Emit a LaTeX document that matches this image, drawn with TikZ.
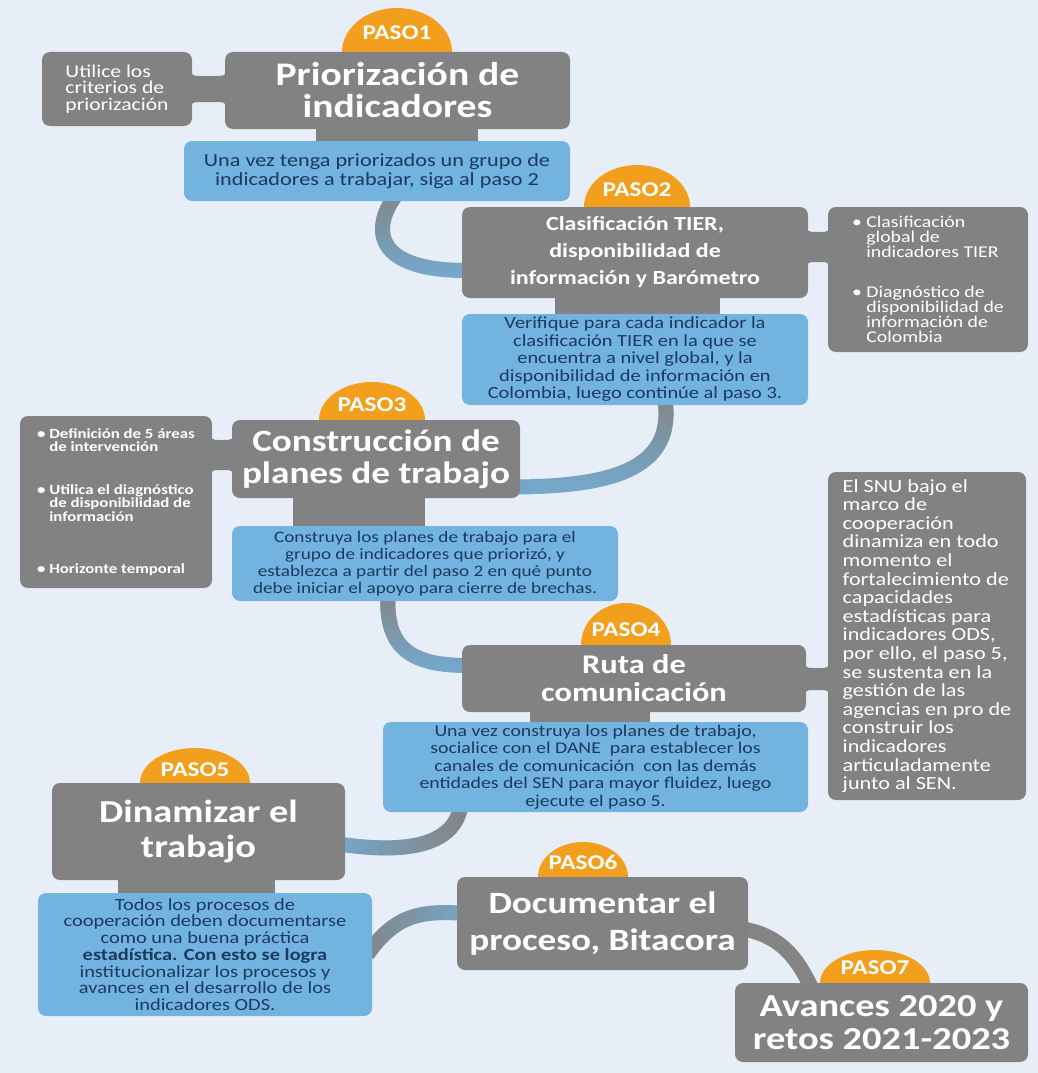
\documentclass[tikz,border=0pt]{standalone}
\usepackage{fontspec}
\setmainfont{Carlito}[FakeStretch=1.2]
\usetikzlibrary{fadings}

\definecolor{bgcol}{HTML}{E8EEF8}
\definecolor{boxgrey}{HTML}{828282}
\definecolor{boxblue}{HTML}{72B3E0}
\definecolor{navy}{HTML}{1B3A5E}
\definecolor{pasoorange}{HTML}{F29F1E}
\definecolor{linkblue}{HTML}{74ABD0}
\definecolor{linkgrey}{HTML}{848484}

\pgfdeclarelayer{back}
\pgfdeclarelayer{bg}
\pgfsetlayers{back,bg,main}

\tikzset{
  greybox/.style={fill=boxgrey, rounded corners=8pt, text=white, inner sep=0pt, align=center},
  bluebox/.style={fill=boxblue, rounded corners=8pt, text=navy, inner sep=0pt, align=center},
  sidebox/.style={fill=boxgrey, rounded corners=8pt, text=white, inner sep=0pt, align=left},
  pasotxt/.style={text=white, font=\bfseries\fontsize{21}{21}\selectfont, inner sep=0pt},
  link/.style={line width=15pt, draw=linkblue},
  linkfade/.style={postaction={draw=linkgrey, line width=15pt, path fading=#1}},
}

% neck between a box and its side box
\newcommand{\neckh}[5]{%
  \fill[boxgrey] (#1,#3-#5) .. controls (#1,#3) .. (#1+#5,#3) -- (#2-#5,#3)
    .. controls (#2,#3) .. (#2,#3-#5) -- (#2,#4+#5) .. controls (#2,#4) .. (#2-#5,#4)
    -- (#1+#5,#4) .. controls (#1,#4) .. (#1,#4+#5) -- cycle;}

\begin{document}
\begin{tikzpicture}[x=1pt, y=-1pt]

    \useasboundingbox (0,0) rectangle (1038,1073);
    \begin{pgfonlayer}{back}
      \fill[bgcol] (0,0) rectangle (1038,1073);
    \end{pgfonlayer}

    %% Paso 1
    \node[sidebox, minimum width=150pt, minimum height=74pt,
      font=\fontsize{18}{16.5}\selectfont] (side1) at (117,89)
      {Utilice los\\criterios de\\priorización};
    \node[greybox, minimum width=345pt, minimum height=77pt,
      font=\bfseries\fontsize{33}{32}\selectfont] (prio) at (397.5,90.5)
      {Priorización de\\indicadores};
    \node[bluebox, minimum width=386pt, minimum height=60pt,
      font=\fontsize{18.5}{19}\selectfont] (blue1) at (377,171)
      {Una vez tenga priorizados un grupo de\\indicadores a trabajar, siga al paso 2};
    \node[pasotxt] (p1) at (397,33) {PASO1};

    %% Paso 2
    \node[greybox, minimum width=346pt, minimum height=91pt,
      font=\bfseries\fontsize{20}{27}\selectfont] (tier) at (635,252.5)
      {Clasificación TIER,\\disponibilidad de\\información y Barómetro};
    \node[sidebox, minimum width=200pt, minimum height=145pt,
      font=\fontsize{16.5}{15}\selectfont] (side2) at (928,279.5)
      {\textbullet\ Clasificación\\\phantom{\textbullet\ }global de\\\phantom{\textbullet\ }indicadores TIER\\[25pt]
       \textbullet\ Diagnóstico de\\\phantom{\textbullet\ }disponibilidad de\\\phantom{\textbullet\ }información de\\\phantom{\textbullet\ }Colombia};
    \node[bluebox, minimum width=346pt, minimum height=91pt,
      font=\fontsize{17}{17.5}\selectfont] (blue2) at (635,359.5)
      {Verifique para cada indicador la\\clasificación TIER en la que se\\encuentra a nivel global, y la\\
       disponibilidad de información en\\Colombia, luego continúe al paso 3.};
    \node[pasotxt] (p2) at (637,190) {PASO2};

    %% Paso 3
    \node[greybox, minimum width=288pt, minimum height=78pt,
      font=\bfseries\fontsize{31}{32}\selectfont] (planes) at (376,459)
      {Construcción de\\planes de trabajo};
    \node[sidebox, minimum width=192pt, minimum height=172pt,
      font=\bfseries\fontsize{14}{13.5}\selectfont] (side3) at (116,502)
      {\textbullet\ Definición de 5 áreas\\\phantom{\textbullet\ }de intervención\\[29pt]
       \textbullet\ Utilica el diagnóstico\\\phantom{\textbullet\ }de disponibilidad de\\\phantom{\textbullet\ }información\\[39pt]
       \textbullet\ Horizonte temporal};
    \node[bluebox, minimum width=386pt, minimum height=75pt,
      font=\fontsize{16}{17}\selectfont] (blue3) at (425,563.5)
      {Construya los planes de trabajo para el\\grupo de indicadores que priorizó, y\\
       establezca a partir del paso 2 en qué punto\\debe iniciar el apoyo para cierre de brechas.};
    \node[pasotxt] (p3) at (372,405) {PASO3};

    %% Paso 4
    \node[greybox, minimum width=344pt, minimum height=67pt,
      font=\bfseries\fontsize{27}{28}\selectfont] (ruta) at (634,678.5)
      {Ruta de\\comunicación};
    \node[sidebox, minimum width=198pt, minimum height=328pt,
      font=\fontsize{18.5}{18.6}\selectfont] (side4) at (927,636)
      {El SNU bajo el\\marco de\\cooperación\\dinamiza en todo\\momento el\\fortalecimiento de\\
       capacidades\\estadísticas para\\indicadores ODS,\\por ello, el paso 5,\\se sustenta en la\\
       gestión de las\\agencias en pro de\\construir los\\indicadores\\articuladamente\\junto al SEN.};
    \node[bluebox, minimum width=425pt, minimum height=90pt,
      font=\fontsize{16.5}{17.5}\selectfont] (blue4) at (595.5,767)
      {Una vez construya los planes de trabajo,\\socialice con el DANE\ \ para establecer los\\
       canales de comunicación\ \ con las demás\\entidades del SEN para mayor fluidez, luego\\ejecute el paso 5.};
    \node[pasotxt] (p4) at (626,630) {PASO4};

    %% Paso 5
    \node[greybox, minimum width=293pt, minimum height=97pt,
      font=\bfseries\fontsize{32}{35}\selectfont] (dinam) at (198.5,831.5)
      {Dinamizar el\\trabajo};
    \node[bluebox, minimum width=334pt, minimum height=123pt,
      font=\fontsize{17}{16.7}\selectfont] (blue5) at (205,954.5)
      {Todos los procesos de\\cooperación deben documentarse\\como una buena práctica\\
       \textbf{estadística. Con esto se logra}\\institucionalizar los procesos y\\
       avances en el desarrollo de los\\indicadores ODS.};
    \node[pasotxt] (p5) at (195,770) {PASO5};

    %% Paso 6
    \node[greybox, minimum width=291pt, minimum height=93pt,
      font=\bfseries\fontsize{31}{37}\selectfont] (docu) at (602.5,923.5)
      {Documentar el\\proceso, Bitacora};
    \node[pasotxt] (p6) at (583,862) {PASO6};

    %% Paso 7
    \node[greybox, minimum width=293pt, minimum height=79pt,
      font=\bfseries\fontsize{32}{33}\selectfont] (avan) at (881.5,1022.5)
      {Avances 2020 y\\retos 2021-2023};
    \node[pasotxt] (p7) at (875,968) {PASO7};

    \begin{pgfonlayer}{bg}
      % Links between the steps
      \draw[link, linkfade=south] ([xshift=18pt,yshift=5pt]blue1.south)
        .. controls (372,228) and (372,272) .. ([xshift=10pt,yshift=-18pt]tier.west);
      \draw[link, linkfade=south] ([xshift=30pt,yshift=5pt]blue2.south)
        .. controls (675,470) and (610,487) .. ([xshift=-10pt,yshift=-28pt]planes.east);
      \draw[link, linkfade=south] ([xshift=-37pt,yshift=5pt]blue3.south)
        .. controls (385,655) and (420,666) .. ([xshift=10pt,yshift=13pt]ruta.west);
      \draw[link, linkfade=west] ([xshift=-135pt,yshift=5pt]blue4.south)
        .. controls (452,852) and (390,852) .. ([xshift=-10pt,yshift=-12pt]dinam.east);
      \draw[link, linkfade=east] ([xshift=-5pt]blue5.east)
        .. controls (395,915) and (420,910) .. ([xshift=10pt,yshift=10pt]docu.west);
      \draw[link, draw=linkgrey] ([xshift=-8pt,yshift=-5pt]docu.east)
        .. controls (785,935) and (800,965) .. ([xshift=-70pt,yshift=-5pt]avan.north);

      % Badges
      \fill[pasoorange] (397,52) ellipse [x radius=55, y radius=44];
      \fill[pasoorange] (637,207) ellipse [x radius=53, y radius=42];
      \fill[pasoorange] (372,420) ellipse [x radius=53, y radius=38];
      \fill[pasoorange] (626,645) ellipse [x radius=45, y radius=42];
      \fill[pasoorange] (195,783) ellipse [x radius=55, y radius=35];
      \fill[pasoorange] (583,877) ellipse [x radius=45, y radius=35];
      \fill[pasoorange] (875,983) ellipse [x radius=55, y radius=33];

      % Stubs to the blue boxes
      \fill[boxgrey] (316,125) rectangle (478,145);
      \fill[boxgrey] (555,295) rectangle (720,318);
      \fill[boxgrey] (293,495) rectangle (425,530);
      \fill[boxgrey] (530,708) rectangle (650,726);
      \fill[boxgrey] (118,877) rectangle (275,897);

      % Necks to the side boxes
      \neckh{191}{226}{76}{102}{12}
      \neckh{807}{829}{232}{262}{10}
      \neckh{211}{233}{440}{470}{10}
      \neckh{805}{829}{668}{690}{10}
    \end{pgfonlayer}

\end{tikzpicture}
\end{document}
